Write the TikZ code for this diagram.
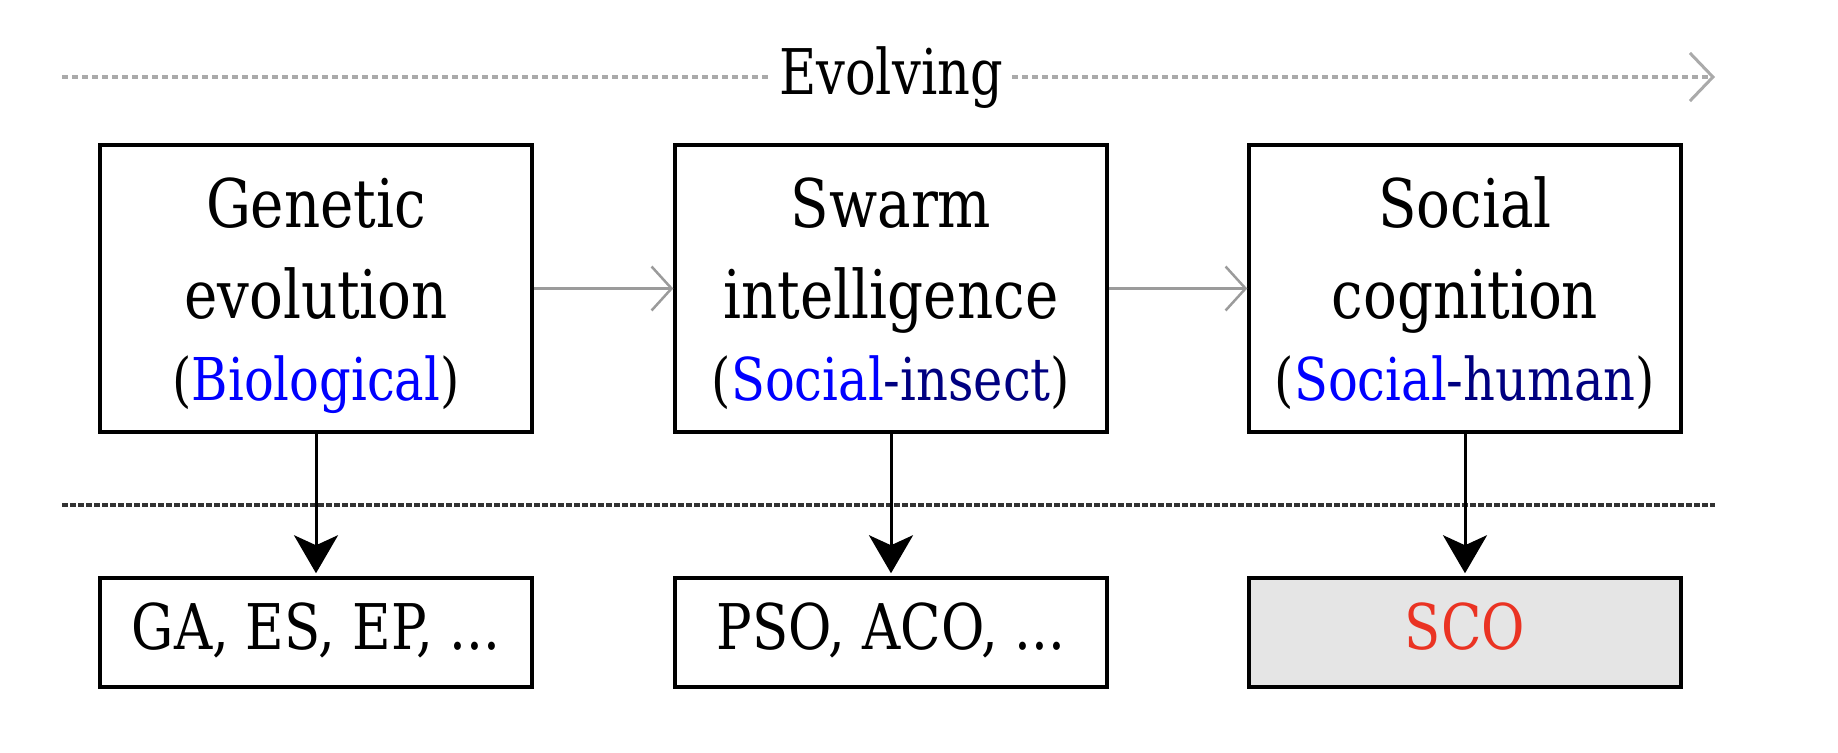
\documentclass[tikz,border=0pt]{standalone}
\usepackage{fontspec}
\setmainfont{DejaVu Serif}[FakeStretch=0.84]
\newfontfamily\evfont{DejaVu Serif}[FakeStretch=0.81]
\usetikzlibrary{arrows.meta}
\definecolor{bblue}{RGB}{0,0,255}
\definecolor{navyc}{RGB}{0,0,128}
\definecolor{scored}{RGB}{234,51,35}
\definecolor{boxgray}{RGB}{229,229,229}
\definecolor{evgray}{RGB}{170,170,170}
\definecolor{arrgray}{RGB}{155,155,155}
\begin{document}
\begin{tikzpicture}[x=1pt,y=-1pt,
  topbox/.style={draw=black, line width=3.5pt, fill=white, minimum width=432pt, minimum height=287pt, inner sep=0pt},
  botbox/.style={draw=black, line width=3.5pt, fill=white, minimum width=432pt, minimum height=109pt, inner sep=0pt},
  txt/.style={anchor=base, inner sep=0pt},
  big/.style={txt, font=\fontsize{67}{80}\selectfont},
  small/.style={txt, font=\fontsize{59}{70}\selectfont},
  mid/.style={txt, font=\fontsize{63}{75}\selectfont},
  downarrow/.style={draw=black, line width=3pt, -{Stealth[length=38pt, width=44pt, inset=10pt]}, shorten >=3pt},
  grayarrow/.style={draw=arrgray, line width=2.5pt, -{Straight Barb[length=20pt, width=44pt, line width=2.5pt]}},
  evline/.style={draw=evgray, line width=3.5pt, dash pattern=on 6pt off 4pt, -{Straight Barb[length=23pt, width=48pt, line width=3pt]}},
  sepline/.style={draw=black!80, line width=3.5pt, dash pattern=on 6pt off 2pt}
]
\useasboundingbox (0,0) rectangle (1838,752);

% Evolving line
\coordinate (ev0) at (62,77);
\coordinate (ev1) at (1715,77);
\draw[evline] (ev0) -- (ev1);
\node[txt, fill=white, inner xsep=9pt, inner ysep=0pt, font=\evfont\fontsize{63}{75}\selectfont] (ev) at (891,94) {Evolving};

% separator
\coordinate (sep0) at (62,505);
\coordinate (sep1) at (1715,505);
\draw[sepline] (sep0) -- (sep1);

% top boxes
\node[topbox] (b1) at (316,288.5) {};
\node[topbox] (b2) at (891,288.5) {};
\node[topbox] (b3) at (1465,288.5) {};

\node[big] (b1a) at (316,227) {Genetic};
\node[big] (b1b) at (316,318) {evolution};
\node[small] (b1c) at (316,400) {(\textcolor{bblue}{Biological})};

\node[big] (b2a) at (891,227) {Swarm};
\node[big] (b2b) at (891,318) {intelligence};
\node[small] (b2c) at (891,400) {(\textcolor{bblue}{Social}\textcolor{navyc}{-insect})};

\node[big] (b3a) at (1465,227) {Social};
\node[big] (b3b) at (1465,318) {cognition};
\node[small] (b3c) at (1465,400) {(\textcolor{bblue}{Social}\textcolor{navyc}{-human})};

% bottom boxes
\node[botbox] (r1) at (316,632.5) {};
\node[botbox] (r2) at (891,632.5) {};
\node[botbox, fill=boxgray] (r3) at (1465,632.5) {};

\node[mid] (r1t) at (316,649) {GA, ES, EP, ...};
\node[mid] (r2t) at (891,649) {PSO, ACO, ...};
\node[mid, text=scored] (r3t) at (1465,649) {SCO};

% arrows
\draw[grayarrow] (b1.east) -- (b2.west);
\draw[grayarrow] (b2.east) -- (b3.west);
\draw[downarrow] (b1.south) -- (r1.north);
\draw[downarrow] (b2.south) -- (r2.north);
\draw[downarrow] (b3.south) -- (r3.north);
\end{tikzpicture}
\end{document}
